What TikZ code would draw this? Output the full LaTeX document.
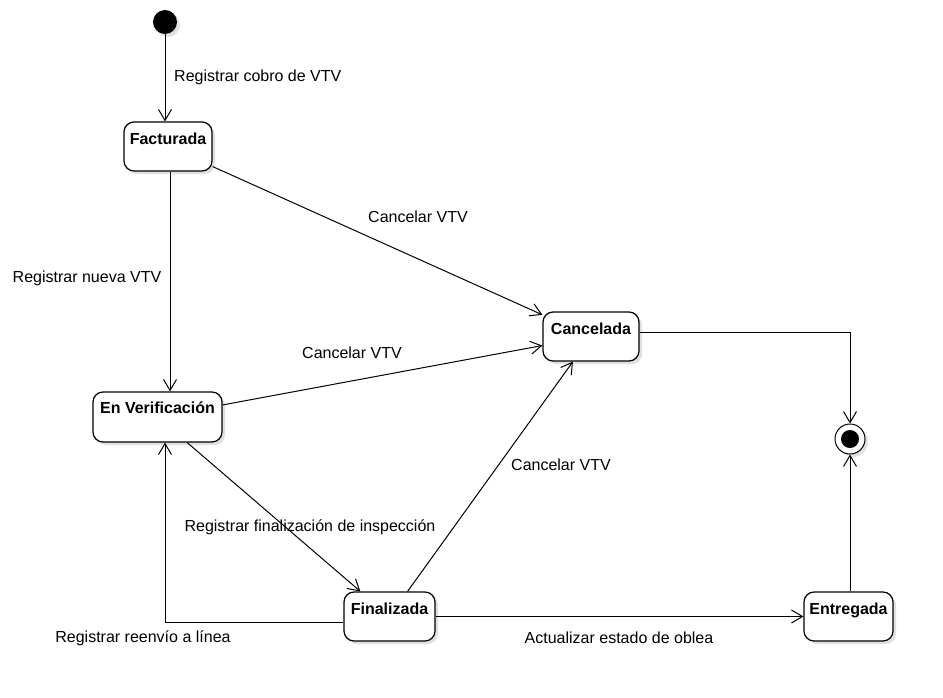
\documentclass[tikz,border=0pt]{standalone}
\usepackage{fontspec}
\setmainfont{Liberation Sans}
\usetikzlibrary{arrows.meta,shadows,calc}
\begin{document}
\begin{tikzpicture}[x=1pt,y=-1pt,
  shad/.style={drop shadow={shadow xshift=3pt,shadow yshift=-3pt,opacity=0.12,fill=black}},
  statebox/.style={draw,line width=1.2pt,rounded corners=10pt,fill=white,shad,inner sep=0pt},
  arr/.style={line width=1pt,-{Straight Barb[length=11pt,width=13pt,line width=1pt]}},
  lbl/.style={font=\fontsize{16}{19}\selectfont,inner sep=0pt},
  ttl/.style={font=\fontsize{16}{19}\selectfont\bfseries,inner sep=0pt,anchor=base}
]
\useasboundingbox (0,0) rectangle (943,697);
\fill[white] (0,0) rectangle (943,697);

% states
\node[statebox,minimum width=88pt,minimum height=49pt,
  label={[ttl,yshift=-23pt]north:Facturada}] (fact) at (168,146.5) {};
\node[statebox,minimum width=129pt,minimum height=50pt,
  label={[ttl,yshift=-22pt]north:En Verificación}] (ver) at (157.5,417) {};
\node[statebox,minimum width=96pt,minimum height=49pt,
  label={[ttl,yshift=-23pt]north:Cancelada}] (canc) at (591,336.5) {};
\node[statebox,minimum width=91pt,minimum height=49pt,
  label={[ttl,yshift=-23pt]north:Finalizada}] (fin) at (389.5,616.5) {};
\node[statebox,minimum width=89pt,minimum height=49pt,
  label={[ttl,yshift=-23pt]north:Entregada}] (ent) at (848.5,616.5) {};

% initial and final
\node[circle,fill=black,minimum size=24pt,inner sep=0pt,shad] (start) at (165,22) {};
\node[circle,draw,line width=1pt,fill=white,minimum size=30pt,inner sep=0pt,shad] (endc) at (850,439) {};
\node[circle,fill=black,minimum size=18pt,inner sep=0pt] (endin) at (850,439) {};

% helper coordinates
\coordinate (fv) at ($(fact.south)+(2,0)$);
\coordinate (fw) at ($(fin.west)+(0,5.5)$);
\coordinate (vs) at ($(ver.south)+(7.5,0)$);
\coordinate (ce) at ($(canc.east)+(0,-4.5)$);

% transitions
\draw[arr] (start.south) -- (start.south |- fact.north);
\draw[arr] (fv) -- (fv |- ver.north);
\draw[arr] (fact) -- (canc);
\draw[arr] (ver) -- (canc);
\draw[arr] (ver) -- (fin);
\draw[arr] (fin) -- (canc);
\draw[arr] (fin.east) -- (ent.west);
\draw[arr] (fw) -| (vs);
\draw[arr] (ce) -| (endc.north);
\draw[arr] (ent.north -| endc) -- (endc.south);

% labels
\node[lbl,anchor=west] (l1) at (174,77) {Registrar cobro de VTV};
\node[lbl] (l2) at (87,278) {Registrar nueva VTV};
\node[lbl] (l3) at (418,217) {Cancelar VTV};
\node[lbl] (l4) at (352,353) {Cancelar VTV};
\node[lbl] (l5) at (561,465) {Cancelar VTV};
\node[lbl] (l6) at (310,527) {Registrar finalización de inspección};
\node[lbl] (l7) at (143,638) {Registrar reenvío a línea};
\node[lbl] (l8) at (619,638) {Actualizar estado de oblea};
\end{tikzpicture}
\end{document}
